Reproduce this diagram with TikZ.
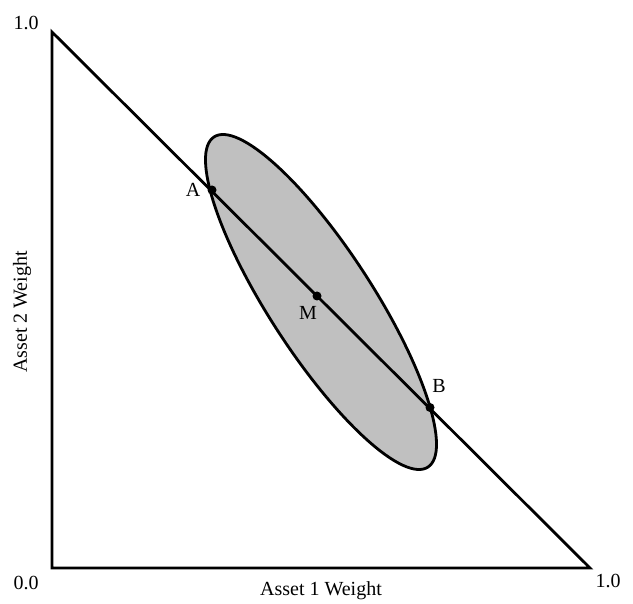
\documentclass[tikz,border=0pt]{standalone}
\usepackage{fontspec}
\setmainfont{Liberation Serif}
\begin{document}
\begin{tikzpicture}[x=1pt,y=-1pt,
  edge/.style={line width=2.8pt, line join=miter},
  lbl/.style={font=\fontsize{20}{24}\selectfont, inner sep=0pt},
  dotpt/.style={circle, fill=black, inner sep=0pt, minimum size=9pt}]
\useasboundingbox (0,0) rectangle (633,604);
\coordinate (T) at (52,32);
\coordinate (O) at (52,568);
\coordinate (R) at (590,568);
\fill[fill={rgb,255:red,192;green,192;blue,192}] (321,302) ellipse[x radius=196.7, y radius=52, rotate=-57.07];
\draw[edge] (321,302) ellipse[x radius=196.7, y radius=52, rotate=-57.07];
\draw[edge] (T) -- (O) -- (R) -- cycle;
\node[dotpt] (A) at (212,190) {};
\node[dotpt] (M) at (317,296) {};
\node[dotpt] (B) at (430,407.5) {};
\node[lbl] (lA) at (193,190) {A};
\node[lbl] (lM) at (308,313) {M};
\node[lbl] (lB) at (439,386) {B};
\node[lbl] (t1) at (26,23) {1.0};
\node[lbl] (t0) at (26,583) {0.0};
\node[lbl] (r1) at (608,581) {1.0};
\node[lbl] (xl) at (321,591) {Asset 1 Weight};
\node[lbl, rotate=90] (yl) at (22,312) {Asset 2 Weight};
\end{tikzpicture}
\end{document}
